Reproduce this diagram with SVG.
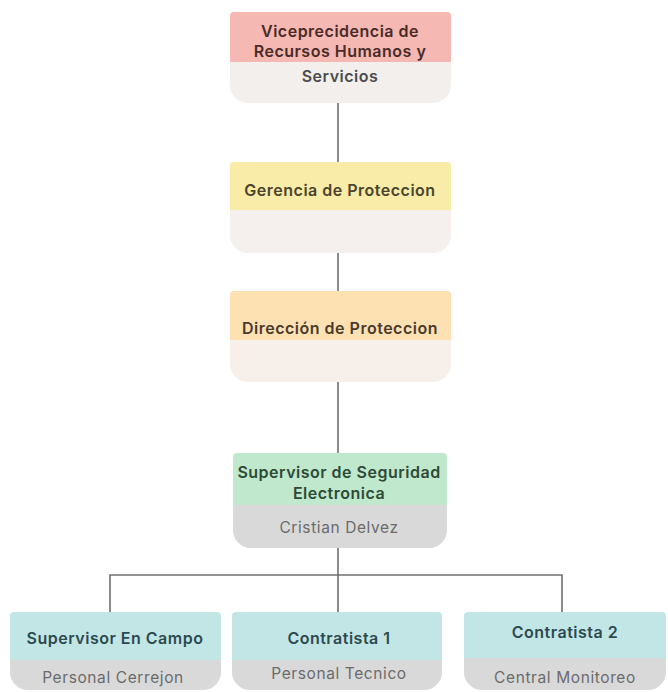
<svg xmlns="http://www.w3.org/2000/svg" width="668" height="692" viewBox="0 0 668 692">
<style>
.t{font-family:Inter,"Noto Sans",sans-serif;font-weight:600;font-size:16px;letter-spacing:0.5px;text-anchor:middle}
.s{font-family:Inter,"Noto Sans",sans-serif;font-weight:400;font-size:15.5px;letter-spacing:0.6px;text-anchor:middle;fill:#6b6b6b}
.ln{stroke:#707070;stroke-width:1.6;fill:none}
</style>
<rect width="668" height="692" fill="#ffffff"/>
<g id="connectors">
<path class="ln" d="M338 103 V162"/>
<path class="ln" d="M338 253 V291"/>
<path class="ln" d="M338 382 V453"/>
<path class="ln" d="M338 548 V612"/>
<path class="ln" d="M110 612 V575 H562 V612"/>
</g>
<g id="n1">
<path d="M230 62 H451 V85 A18 18 0 0 1 433 103 H248 A18 18 0 0 1 230 85 Z" fill="#f2efec"/>
<path d="M230 16 A4 4 0 0 1 234 12 H447 A4 4 0 0 1 451 16 V62 H230 Z" fill="#f5b8b2"/>
<text class="t" x="340" y="37" fill="#4a2b28">Viceprecidencia de</text>
<text class="t" x="340" y="57" fill="#4a2b28">Recursos Humanos y</text>
<text class="t" x="340" y="82" fill="#4d4d4d">Servicios</text>
</g>
<g id="n2">
<path d="M230 210 H451 V235 A18 18 0 0 1 433 253 H248 A18 18 0 0 1 230 235 Z" fill="#f5f0ee"/>
<path d="M230 166 A4 4 0 0 1 234 162 H447 A4 4 0 0 1 451 166 V210 H230 Z" fill="#f9eba8"/>
<text class="t" x="340" y="196" fill="#4a452c">Gerencia de Proteccion</text>
</g>
<g id="n3">
<path d="M230 340 H451 V364 A18 18 0 0 1 433 382 H248 A18 18 0 0 1 230 364 Z" fill="#f7f0ea"/>
<path d="M230 295 A4 4 0 0 1 234 291 H447 A4 4 0 0 1 451 295 V340 H230 Z" fill="#fde1b3"/>
<text class="t" x="340" y="334" fill="#4a3a2c">Dirección de Proteccion</text>
</g>
<g id="n4">
<path d="M233 505 H447 V530 A18 18 0 0 1 429 548 H251 A18 18 0 0 1 233 530 Z" fill="#d9d9d9"/>
<path d="M233 457 A4 4 0 0 1 237 453 H443 A4 4 0 0 1 447 457 V505 H233 Z" fill="#bfe8cc"/>
<text class="t" x="339" y="478" fill="#2d4a36">Supervisor de Seguridad</text>
<text class="t" x="339" y="499" fill="#2d4a36">Electronica</text>
<text class="s" x="339" y="533">Cristian Delvez</text>
</g>
<g id="n5">
<path d="M10 660 H221 V672 A18 18 0 0 1 203 690 H28 A18 18 0 0 1 10 672 Z" fill="#d9d9d9"/>
<path d="M10 616 A4 4 0 0 1 14 612 H217 A4 4 0 0 1 221 616 V660 H10 Z" fill="#c2e6e6"/>
<text class="t" x="115" y="644" fill="#2c4a4f">Supervisor En Campo</text>
<text class="s" x="113" y="683">Personal Cerrejon</text>
</g>
<g id="n6">
<path d="M232 660 H442 V672 A18 18 0 0 1 424 690 H250 A18 18 0 0 1 232 672 Z" fill="#d9d9d9"/>
<path d="M232 616 A4 4 0 0 1 236 612 H438 A4 4 0 0 1 442 616 V660 H232 Z" fill="#c2e6e6"/>
<text class="t" x="339" y="644" fill="#2c4a4f">Contratista 1</text>
<text class="s" x="339" y="679">Personal Tecnico</text>
</g>
<g id="n7">
<path d="M464 658 H666 V672 A18 18 0 0 1 648 690 H482 A18 18 0 0 1 464 672 Z" fill="#d9d9d9"/>
<path d="M464 616 A4 4 0 0 1 468 612 H662 A4 4 0 0 1 666 616 V658 H464 Z" fill="#c2e6e6"/>
<text class="t" x="565" y="638" fill="#2c4a4f">Contratista 2</text>
<text class="s" x="565" y="683">Central Monitoreo</text>
</g>
</svg>
